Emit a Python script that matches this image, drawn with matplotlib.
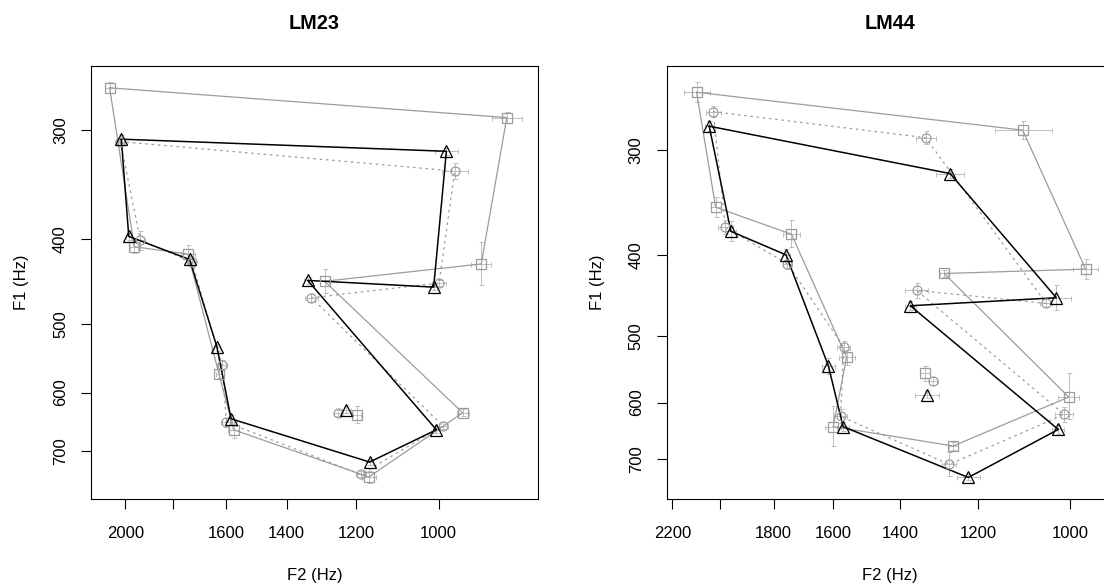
import matplotlib

matplotlib.use('Agg')

import matplotlib.pyplot as plt
import matplotlib.ticker as mticker
import numpy as np

plt.rcParams['font.family'] = ['Liberation Sans', 'DejaVu Sans']

# order of the vowels = order round the polygon, the last one is drawn alone
vowels = ["i", "u", "o", "ʊ", "ɔ", "ɑ", "æ", "ɛ", "e", "ɪ", "ʌ"]

# ---- LM23 ----
lm23_tri_f2 = [2018, 983, 1011, 1336, 1005, 1165, 1583, 1633, 1735, 1985, 1227]
lm23_tri_f1 = [307, 317, 454, 446, 662, 721, 643, 532, 422, 397, 628]
lm23_tri_f2_sd = [10, 25, 8, 10, 8, 10, 10, 10, 10, 10, 12]
lm23_tri_f1_sd = [3, 3, 4, 4, 6, 6, 6, 5, 4, 4, 6]

lm23_cir_f2 = [2022, 965, 999, 1325, 991, 1188, 1599, 1615, 1726, 1935, 1250]
lm23_cir_f1 = [309, 334, 449, 467, 655, 745, 649, 558, 425, 401, 634]
lm23_cir_f2_sd = [15, 28, 15, 18, 12, 12, 18, 18, 12, 20, 10]
lm23_cir_f1_sd = [3, 7, 4, 5, 6, 6, 8, 7, 5, 10, 5]

lm23_sq_f2 = [2071, 860, 910, 1287, 948, 1167, 1574, 1626, 1741, 1961, 1198]
lm23_sq_f1 = [268, 290, 427, 447, 633, 750, 662, 571, 416, 408, 636]
lm23_sq_f2_sd = [23, 28, 20, 12, 12, 18, 18, 10, 26, 18, 10]
lm23_sq_f1_sd = [4, 4, 24, 14, 6, 12, 14, 6, 10, 7, 15]

# ---- LM44 ----
lm44_tri_f2 = [2045, 1268, 1027, 1372, 1023, 1223, 1568, 1614, 1756, 1959, 1328]
lm44_tri_f1 = [281, 320, 450, 460, 646, 737, 641, 543, 400, 375, 587]
lm44_tri_f2_sd = [18, 35, 30, 15, 12, 27, 18, 20, 15, 18, 31]
lm44_tri_f1_sd = [4, 4, 15, 6, 8, 6, 8, 12, 6, 10, 6]

lm44_cir_f2 = [2029, 1331, 1048, 1355, 1011, 1270, 1576, 1566, 1751, 1980, 1311]
lm44_cir_f1 = [270, 290, 457, 441, 620, 711, 623, 515, 410, 371, 566]
lm44_cir_f2_sd = [30, 26, 12, 31, 18, 18, 20, 20, 15, 31, 12]
lm44_cir_f1_sd = [4, 5, 5, 9, 13, 24, 12, 8, 6, 7, 6]

lm44_sq_f2 = [2097, 1098, 969, 1283, 1002, 1260, 1599, 1557, 1737, 2019, 1333]
lm44_sq_f1 = [256, 284, 416, 421, 591, 676, 641, 530, 378, 351, 554]
lm44_sq_f2_sd = [54, 63, 24, 10, 21, 12, 25, 25, 28, 20, 13]
lm44_sq_f1_sd = [7, 7, 11, 4, 37, 8, 35, 11, 14, 10, 12]

GREY = "#9c9c9c"
ERR = "#bdbdbd"


def draw_series(ax, f2, f1, f2_sd, f1_sd, marker, color, ls, lw, ms):
    f2 = np.asarray(f2, dtype=float)
    f1 = np.asarray(f1, dtype=float)
    ax.errorbar(f2, f1, xerr=f2_sd, yerr=f1_sd, fmt="none", ecolor=ERR,
                elinewidth=0.7, capsize=1.8, capthick=0.7, zorder=1)
    # closed polygon over the first ten vowels
    idx = list(range(10)) + [0]
    ax.plot(f2[idx], f1[idx], linestyle=ls, color=color, lw=lw, zorder=2)
    ax.plot(f2, f1, linestyle="none", marker=marker, ms=ms, mfc="none",
            mec=color, mew=0.9, zorder=3)


def panel(ax, title, tri, cir, sq, xlim, ylim, xticks, xlabels):
    draw_series(ax, *sq, marker="s", color=GREY, ls="-", lw=0.9, ms=6.5)
    draw_series(ax, *cir, marker="o", color=GREY, ls=(0, (2, 3)), lw=0.9, ms=6.5)
    draw_series(ax, *tri, marker="^", color="black", ls="-", lw=1.1, ms=8)

    ax.set_xscale("log")
    ax.set_yscale("log")
    ax.set_xlim(*xlim)
    ax.set_ylim(*ylim)

    ax.xaxis.set_major_locator(mticker.FixedLocator(xticks))
    ax.xaxis.set_major_formatter(mticker.FixedFormatter(xlabels))
    ax.xaxis.set_minor_locator(mticker.NullLocator())
    yt = [300, 400, 500, 600, 700]
    ax.yaxis.set_major_locator(mticker.FixedLocator(yt))
    ax.yaxis.set_major_formatter(mticker.FixedFormatter([str(v) for v in yt]))
    ax.yaxis.set_minor_locator(mticker.NullLocator())

    ax.tick_params(axis="both", direction="out", length=7.2, width=0.8,
                   labelsize=12)
    ax.tick_params(axis="x", pad=11.8)
    ax.tick_params(axis="y", pad=9.4)
    for lab in ax.get_yticklabels():
        lab.set_rotation(90)
        lab.set_va("center")
    for s in ax.spines.values():
        s.set_linewidth(0.8)

    ax.set_title(title, fontsize=14.3, fontweight="bold", pad=26.5)
    ax.set_xlabel("F2 (Hz)", fontsize=12, labelpad=20)
    ax.set_ylabel("F1 (Hz)", fontsize=12, labelpad=17)


fig = plt.figure(figsize=(11.04, 5.84), dpi=100)
ax1 = fig.add_axes([91 / 1104, 1 - 499.3 / 584, 447 / 1104, 433.6 / 584])
ax2 = fig.add_axes([666.7 / 1104, 1 - 499.3 / 584, 447 / 1104, 433.6 / 584])

panel(ax1, "LM23",
      (lm23_tri_f2, lm23_tri_f1, lm23_tri_f2_sd, lm23_tri_f1_sd),
      (lm23_cir_f2, lm23_cir_f1, lm23_cir_f2_sd, lm23_cir_f1_sd),
      (lm23_sq_f2, lm23_sq_f1, lm23_sq_f2_sd, lm23_sq_f1_sd),
      (2158, 802.6), (795.6, 252.8),
      [2000, 1800, 1600, 1400, 1200, 1000],
      ["2000", "", "1600", "1400", "1200", "1000"])

panel(ax2, "LM44",
      (lm44_tri_f2, lm44_tri_f1, lm44_tri_f2_sd, lm44_tri_f1_sd),
      (lm44_cir_f2, lm44_cir_f1, lm44_cir_f2_sd, lm44_cir_f1_sd),
      (lm44_sq_f2, lm44_sq_f1, lm44_sq_f2_sd, lm44_sq_f1_sd),
      (2225, 916.5), (782.5, 238),
      [2200, 2000, 1800, 1600, 1400, 1200, 1000],
      ["2200", "", "1800", "1600", "1400", "1200", "1000"])

fig.savefig("out.png", dpi=100)
